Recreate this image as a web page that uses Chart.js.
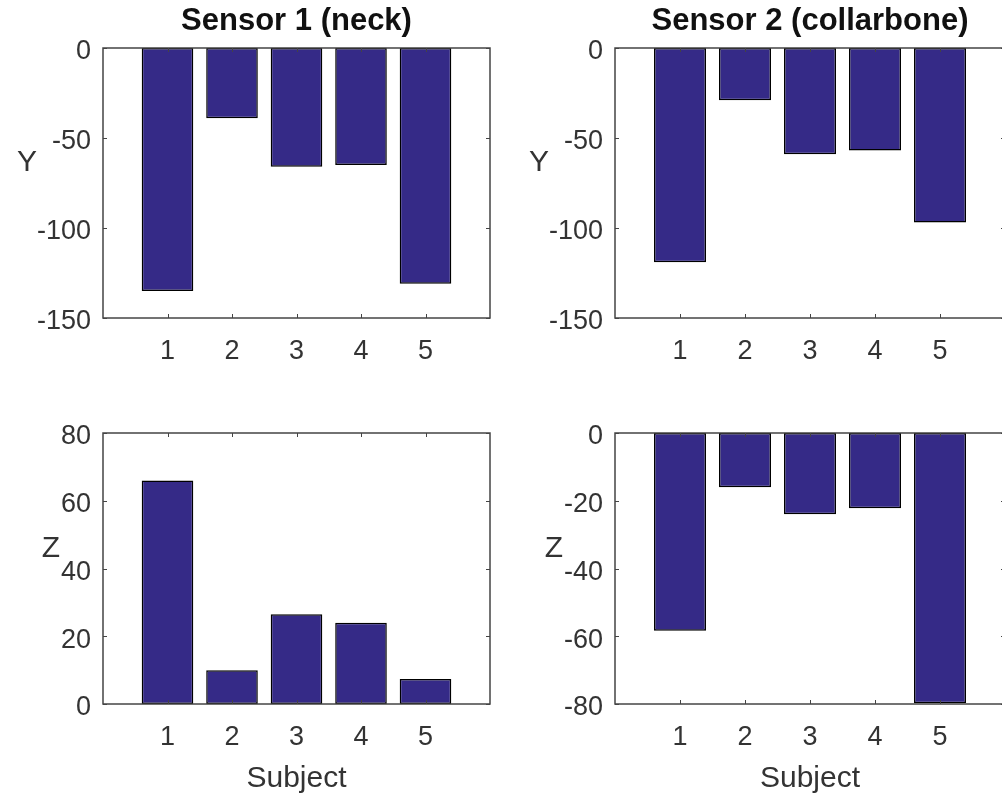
<!DOCTYPE html>
<html>
<head>
<meta charset="utf-8">
<script src="https://cdn.jsdelivr.net/npm/chart.js@4.4.1/dist/chart.umd.min.js"></script>
<style>
  html, body { margin: 0; padding: 0; background: #fff; overflow: hidden; }
  #fig { position: relative; width: 1002px; height: 799px; overflow: hidden; }
  #fig canvas { position: absolute; }
</style>
</head>
<body>
<div id="fig">
  <canvas id="c1"></canvas>
  <canvas id="c2"></canvas>
  <canvas id="c3"></canvas>
  <canvas id="c4"></canvas>
</div>
<script>
/* ---- data ---- */
const subjects   = [1, 2, 3, 4, 5];
const sensor1Y   = [-135, -39, -66, -65, -131];
const sensor2Y   = [-119, -29, -59, -57, -97];
const sensor1Z   = [66, 10, 26.5, 24, 7.4];
const sensor2Z   = [-58.4, -16, -24, -22.2, -79.8];

const yTicks     = [-150, -100, -50, 0];
const zTicks1    = [0, 20, 40, 60, 80];
const zTicks2    = [-80, -60, -40, -20, 0];
const xRange     = [0, 6];

/* ---- styling ---- */
const FONT       = "'Liberation Sans', Arial, Helvetica, sans-serif";
const TEXT       = '#333333';
const AXIS       = '#444444';
const BAR_FILL   = '#352A87';
const TICK_LEN   = 4;

/* box + inward tick marks, drawn on top of the bars like MATLAB does */
const axesBox = {
  id: 'axesBox',
  afterDatasetsDraw(chart) {
    const { ctx, chartArea: a, scales: { x, y } } = chart;
    ctx.save();
    ctx.strokeStyle = AXIS;
    ctx.lineWidth = 1.5;
    ctx.strokeRect(a.left, a.top, a.right - a.left, a.bottom - a.top);
    ctx.lineWidth = 1;
    ctx.beginPath();
    subjects.forEach(s => {
      const px = Math.round(x.getPixelForValue(s)) + 0.5;
      ctx.moveTo(px, a.bottom); ctx.lineTo(px, a.bottom - TICK_LEN);
      ctx.moveTo(px, a.top);    ctx.lineTo(px, a.top + TICK_LEN);
    });
    y.ticks.forEach(t => {
      const py = Math.round(y.getPixelForValue(t.value)) + 0.5;
      ctx.moveTo(a.left, py);  ctx.lineTo(a.left + TICK_LEN, py);
      ctx.moveTo(a.right, py); ctx.lineTo(a.right - TICK_LEN, py);
    });
    ctx.stroke();
    ctx.restore();
  }
};

/* horizontal (unrotated) y label */
const sideLabel = {
  id: 'sideLabel',
  afterDraw(chart, args, opts) {
    if (!opts.text) return;
    const { ctx, chartArea: a } = chart;
    ctx.save();
    ctx.fillStyle = TEXT;
    ctx.font = `30px ${FONT}`;
    ctx.textAlign = 'center';
    ctx.textBaseline = 'middle';
    ctx.fillText(opts.text, a.left + opts.dx, (a.top + a.bottom) / 2 + opts.dy);
    ctx.restore();
  }
};

/* ---- panels ---- */
const panels = [
  { id: 'c1', left: 0,   top: 0,   w: 501, h: 400, yW: 103, padR: 11, padT: 0,
    title: 'Sensor 1 (neck)',       data: sensor1Y, ticks: yTicks,  ylab: 'Y', ldx: -76, xlab: '' },
  { id: 'c2', left: 501, top: 0,   w: 520, h: 400, yW: 114, padR: 16, padT: 0,
    title: 'Sensor 2 (collarbone)', data: sensor2Y, ticks: yTicks,  ylab: 'Y', ldx: -76, xlab: '' },
  { id: 'c3', left: 0,   top: 400, w: 501, h: 399, yW: 103, padR: 11, padT: 33,
    title: '',                      data: sensor1Z, ticks: zTicks1, ylab: 'Z', ldx: -52, xlab: 'Subject' },
  { id: 'c4', left: 501, top: 400, w: 520, h: 399, yW: 114, padR: 16, padT: 33,
    title: '',                      data: sensor2Z, ticks: zTicks2, ylab: 'Z', ldx: -61, xlab: 'Subject' }
];

panels.forEach(p => {
  const canvas = document.getElementById(p.id);
  canvas.width = p.w; canvas.height = p.h;
  canvas.style.left = p.left + 'px';
  canvas.style.top  = p.top + 'px';
  canvas.style.width = p.w + 'px';
  canvas.style.height = p.h + 'px';

  const yMin = p.ticks[0], yMax = p.ticks[p.ticks.length - 1];
  const step = p.ticks[1] - p.ticks[0];
  const xAxisH = p.h - (p.title ? 318 : 304);

  new Chart(canvas, {
    type: 'bar',
    data: {
      datasets: [{
        data: subjects.map((s, i) => ({ x: s, y: p.data[i] })),
        backgroundColor: BAR_FILL,
        borderColor: '#000000',
        borderWidth: 1.5,
        borderSkipped: false,
        categoryPercentage: 1,
        barPercentage: 0.8
      }]
    },
    options: {
      responsive: false,
      animation: false,
      devicePixelRatio: 1,
      layout: { padding: { left: 0, right: p.padR, top: p.padT, bottom: 0 } },
      plugins: {
        legend: { display: false },
        tooltip: { enabled: false },
        title: {
          display: !!p.title,
          text: p.title,
          fullSize: false,
          color: '#111111',
          font: { family: FONT, size: 31, weight: 'bold', lineHeight: 1.2 },
          padding: { top: 3, bottom: 7.8 }
        },
        sideLabel: { text: p.ylab, dx: p.ldx, dy: -20 }
      },
      scales: {
        x: {
          type: 'linear',
          min: xRange[0], max: xRange[1],
          offset: false,
          grid: { display: false, drawTicks: false, offset: false },
          border: { display: false },
          ticks: {
            stepSize: 1,
            padding: 17,
            color: TEXT,
            font: { family: FONT, size: 27 },
            callback: v => subjects.includes(v) ? String(v) : ''
          },
          title: {
            display: !!p.xlab,
            text: p.xlab,
            color: TEXT,
            font: { family: FONT, size: 30, lineHeight: 1.2 },
            padding: { top: 0, bottom: 2 }
          },
          afterFit: s => { s.height = xAxisH; s.paddingLeft = 0; s.paddingRight = 0; }
        },
        y: {
          min: yMin, max: yMax,
          grid: { display: false, drawTicks: false },
          border: { display: false },
          ticks: {
            stepSize: step,
            padding: 12,
            labelOffset: 4,
            color: TEXT,
            font: { family: FONT, size: 27 }
          },
          afterFit: s => { s.width = p.yW; s.paddingTop = 0; s.paddingBottom = 0; }
        }
      }
    },
    plugins: [axesBox, sideLabel]
  });
});
</script>
</body>
</html>
